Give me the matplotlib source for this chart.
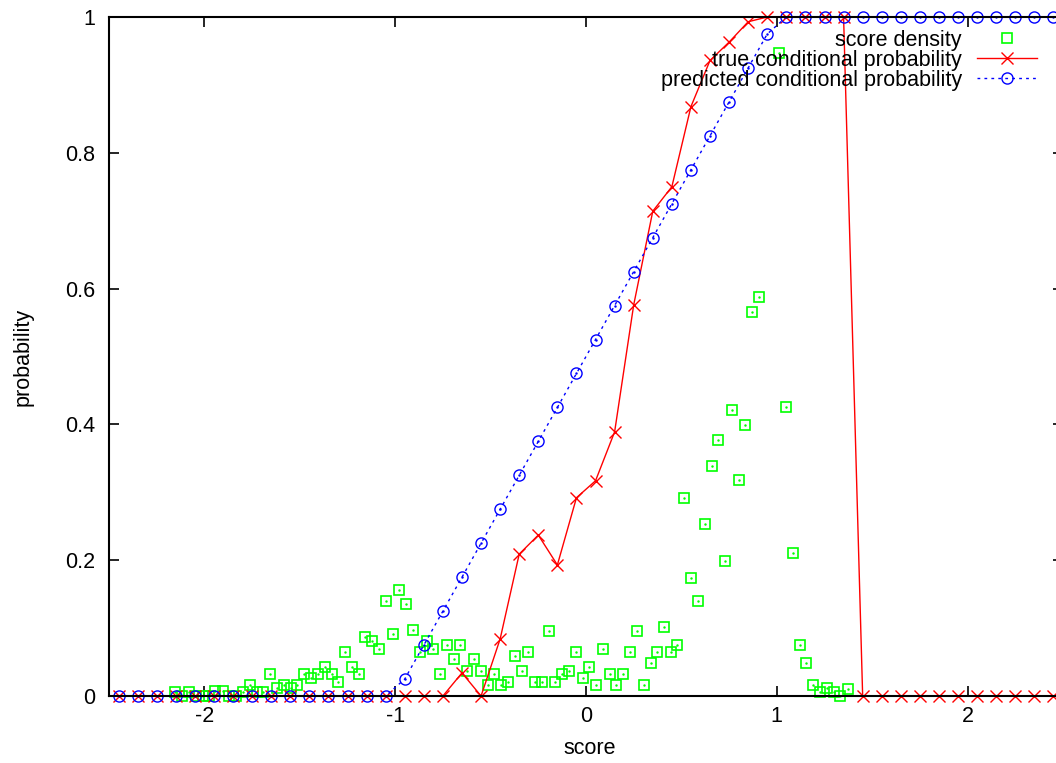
import numpy as np
import matplotlib
matplotlib.use("Agg")
import matplotlib.pyplot as plt

plt.rcParams['font.family'] = ['Liberation Sans', 'DejaVu Sans']

# bin centres for the two conditional probability curves
score_bins = [-2.45, -2.35, -2.25, -2.15, -2.05, -1.95, -1.85, -1.75, -1.65, -1.55,
              -1.45, -1.35, -1.25, -1.15, -1.05, -0.95, -0.85, -0.75, -0.65, -0.55,
              -0.45, -0.35, -0.25, -0.15, -0.05, 0.05, 0.15, 0.25, 0.35, 0.45,
              0.55, 0.65, 0.75, 0.85, 0.95, 1.05, 1.15, 1.25, 1.35, 1.45,
              1.55, 1.65, 1.75, 1.85, 1.95, 2.05, 2.15, 2.25, 2.35, 2.45]

true_prob = [0, 0, 0, 0, 0, 0, 0, 0, 0, 0,
             0, 0, 0, 0, 0, 0, 0, 0, 0.034, 0,
             0.084, 0.209, 0.237, 0.193, 0.292, 0.317, 0.389, 0.576, 0.714, 0.75,
             0.868, 0.936, 0.963, 0.993, 1.0, 1.0, 1.0, 1.0, 1.0, 0,
             0, 0, 0, 0, 0, 0, 0, 0, 0, 0]

pred_prob = [0, 0, 0, 0, 0, 0, 0, 0, 0, 0,
             0, 0, 0, 0, 0, 0.025, 0.075, 0.125, 0.175, 0.225,
             0.275, 0.325, 0.375, 0.425, 0.475, 0.525, 0.575, 0.625, 0.675, 0.725,
             0.775, 0.825, 0.875, 0.925, 0.975, 1.0, 1.0, 1.0, 1.0, 1.0,
             1.0, 1.0, 1.0, 1.0, 1.0, 1.0, 1.0, 1.0, 1.0, 1.0]

# score density (finer bins)
dens_x = [-2.155, -2.118, -2.082, -2.045, -2.008, -1.977, -1.945, -1.904, -1.872, -1.835,
          -1.799, -1.762, -1.725, -1.694, -1.657, -1.620, -1.584, -1.547, -1.515, -1.479,
          -1.442, -1.405, -1.369, -1.332, -1.300, -1.264, -1.227, -1.190, -1.159, -1.122,
          -1.085, -1.049, -1.012, -0.981, -0.944, -0.907, -0.870, -0.834, -0.802, -0.766,
          -0.729, -0.692, -0.661, -0.624, -0.587, -0.551, -0.514, -0.482, -0.446, -0.409,
          -0.372, -0.336, -0.304, -0.267, -0.231, -0.194, -0.163, -0.126, -0.089, -0.052,
          -0.016, 0.016, 0.052, 0.089, 0.126, 0.157, 0.194, 0.231, 0.267, 0.304,
          0.341, 0.372, 0.409, 0.446, 0.477, 0.514, 0.551, 0.587, 0.624, 0.661,
          0.692, 0.729, 0.766, 0.802, 0.834, 0.870, 0.907, 1.012, 1.049, 1.085,
          1.122, 1.154, 1.190, 1.227, 1.264, 1.300, 1.332, 1.374]
dens_y = [0.006, 0.0, 0.006, 0.0, 0.0, 0.0, 0.007, 0.007, 0.0, 0.0,
          0.006, 0.016, 0.006, 0.006, 0.032, 0.012, 0.016, 0.012, 0.016, 0.032,
          0.027, 0.032, 0.043, 0.032, 0.021, 0.065, 0.043, 0.032, 0.087, 0.081,
          0.069, 0.140, 0.091, 0.156, 0.135, 0.097, 0.065, 0.081, 0.069, 0.032,
          0.075, 0.054, 0.075, 0.037, 0.054, 0.037, 0.016, 0.032, 0.016, 0.021,
          0.059, 0.037, 0.065, 0.021, 0.021, 0.096, 0.021, 0.032, 0.037, 0.065,
          0.027, 0.043, 0.016, 0.069, 0.032, 0.016, 0.032, 0.065, 0.096, 0.016,
          0.049, 0.065, 0.102, 0.065, 0.075, 0.292, 0.174, 0.140, 0.253, 0.339,
          0.377, 0.199, 0.421, 0.318, 0.399, 0.566, 0.588, 0.947, 0.426, 0.211,
          0.075, 0.049, 0.016, 0.006, 0.012, 0.006, 0.0, 0.010]

FS = 15.5
W, H = 1056, 763
fig = plt.figure(figsize=(W / 100, H / 100), dpi=100)
ax = fig.add_axes([109 / W, 67 / H, 954 / W, 679 / H])

ax.plot(dens_x, dens_y, ls='none', marker='s', ms=7.5, mfc='none', mec='#00ff00',
        mew=1.2, label='score density', clip_on=False)
ax.plot(dens_x, dens_y, ls='none', marker='.', ms=1.5, color='#00ff00', clip_on=False)

ax.plot(score_bins, true_prob, color='#ff0000', lw=1.0, marker='x', ms=8.5, mew=1.0,
        label='true conditional probability', clip_on=False)

ax.plot(score_bins, pred_prob, color='#0000ff', lw=1.0, ls=(0, (2, 3)), marker='o',
        ms=8, mfc='none', mew=1.0, label='predicted conditional probability',
        clip_on=False)
ax.plot(score_bins, pred_prob, ls='none', marker='.', ms=1.5, color='#0000ff',
        clip_on=False)

ax.set_xlim(-2.5, 2.5)
ax.set_ylim(0, 1)
ax.set_xticks([-2, -1, 0, 1, 2])
ax.set_yticks([0, 0.2, 0.4, 0.6, 0.8, 1])
ax.set_xticklabels(['-2', '-1', '0', '1', '2'])
ax.set_yticklabels(['0', '0.2', '0.4', '0.6', '0.8', '1'])
ax.tick_params(direction='in', length=7, width=1.2, labelsize=FS,
               top=True, right=True, pad=7)
ax.tick_params(axis='y', pad=10)
for s in ax.spines.values():
    s.set_linewidth(1.5)

fig.text(23 / W, 1 - 357 / H, 'probability', rotation=90, ha='center', va='center',
         fontsize=FS)
fig.text(590 / W, 1 - 748 / H, 'score', ha='center', va='center', fontsize=FS)

leg = ax.legend(loc='upper right', bbox_to_anchor=(1037 / W, 1 - 30 / H),
                bbox_transform=fig.transFigure, frameon=False, markerfirst=False,
                numpoints=1, fontsize=FS, handlelength=2.8, handletextpad=0.7,
                labelspacing=-0.05, borderpad=0, borderaxespad=0)

fig.savefig('out.png', dpi=100)
